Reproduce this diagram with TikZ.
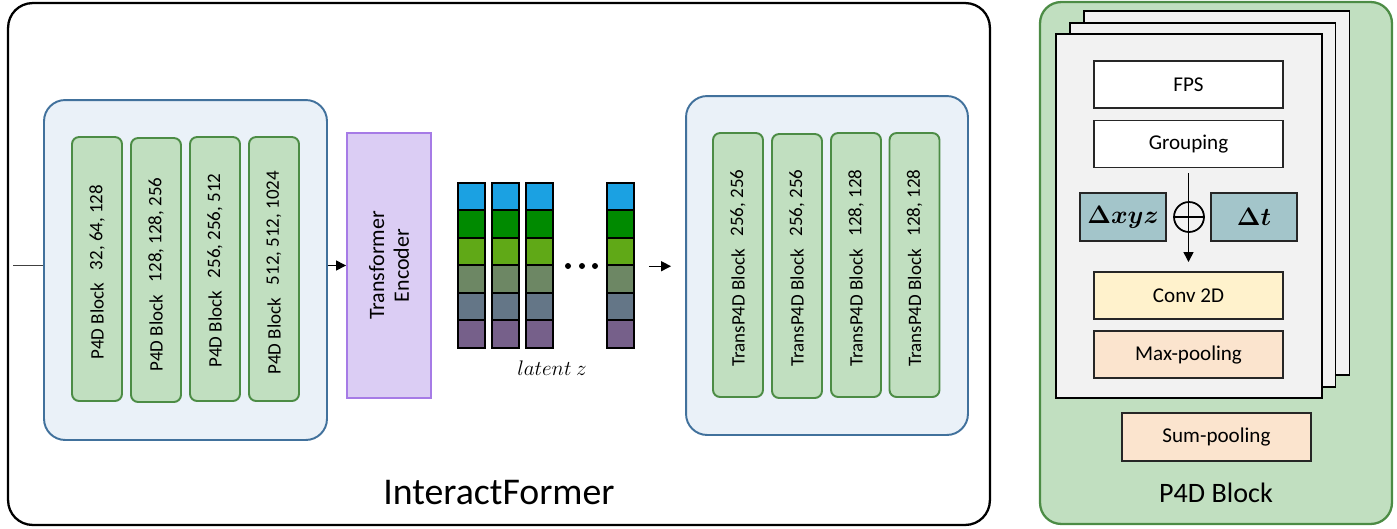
\documentclass[tikz,border=0pt]{standalone}
\usepackage{amsmath,amssymb}
\usepackage{bm}
\usepackage{fontspec}
\setmainfont{Carlito}
\usepackage{tikz}
\usetikzlibrary{shapes,arrows.meta,positioning,calc}
\usepackage{xcolor}
\definecolor{paneblue}{HTML}{EAF1F8}
\definecolor{paneedge}{HTML}{41719C}
\definecolor{blockgreen}{HTML}{C1DFC0}
\definecolor{blockedge}{HTML}{4C8C45}
\definecolor{encfill}{HTML}{DBCDF4}
\definecolor{encedge}{HTML}{A67BE6}
\definecolor{deltafill}{HTML}{A3C5CA}
\definecolor{convfill}{HTML}{FFF2CC}
\definecolor{poolfill}{HTML}{FBE4CE}
\definecolor{pagefill}{HTML}{F2F2F2}
\definecolor{zc1}{HTML}{1BA1E2}
\definecolor{zc2}{HTML}{008A00}
\definecolor{zc3}{HTML}{60A917}
\definecolor{zc4}{HTML}{6D8764}
\definecolor{zc5}{HTML}{647687}
\definecolor{zc6}{HTML}{76608A}
\tikzset{
    pane/.style={draw=paneedge, line width=1.1pt, rounded corners=12pt,
                 fill=paneblue, minimum width=5.66cm, minimum height=6.8cm},
    gblock/.style={draw=blockedge, line width=1.1pt, rounded corners=4pt,
                   fill=blockgreen, minimum width=1cm, minimum height=5.28cm},
    btxt/.style={rotate=90, inner sep=0pt, anchor=west,
                 font=\fontsize{10.8}{12}\selectfont},
    cell/.style={draw=black, line width=1.1pt, fill=#1,
                 minimum width=0.54cm, minimum height=0.55cm, inner sep=0pt},
    page/.style={draw=black, line width=1.1pt, fill=pagefill,
                 minimum width=5.32cm, minimum height=7.28cm},
    opbox/.style={draw=black!85, line width=1.1pt, fill=#1,
                  minimum width=3.78cm, minimum height=0.94cm,
                  font=\fontsize{12}{14}\selectfont},
    dbox/.style={draw=black!85, line width=1.1pt, fill=deltafill,
                 minimum width=1.72cm, minimum height=0.96cm,
                 font=\fontsize{15}{17}\selectfont},
}

\begin{document}
\begin{tikzpicture}[
    x=0.02cm, y=-0.02cm,
    arr/.style={-{Triangle[length=2mm,width=2mm]}, line width=0.8pt, black},
]
    \useasboundingbox (0,0) rectangle (1397,528);

    % InteractFormer frame
    \node[draw, line width=1.3pt, rounded corners=14pt, minimum width=19.64cm,
          minimum height=10.44cm] (frame) at (499,264) {};
    \node[font=\fontsize{21.5}{24}\selectfont] (title) at (499,493) {InteractFormer};

    % encoder stack
    \node[pane] (enc) at (185.5,270) {};
    \foreach \i/\x/\y/\b/\dims in {1/97/269/360/{32, 64, 128},
                                  2/156/270/372/{128, 128, 256},
                                  3/215/269/368/{256, 256, 512},
                                  4/274/269/375/{512, 512, 1024}}{
        \node[gblock] (p\i) at (\x,\y) {};
        \node[btxt] (pl\i) at (\x,\b) {P4D Block};
        \node[btxt] (pd\i) at ($(pl\i.east)+(0,-12)$) {\dims};
    }

    \node[draw=encedge, line width=1.1pt, fill=encfill, rotate=90,
          minimum width=5.3cm, minimum height=1.68cm, align=center,
          font=\fontsize{12.5}{14}\selectfont] (tf) at (389,265.5)
          {Transformer\\Encoder};

    \coordinate (in) at (13,265.5);
    \draw[line width=0.8pt, black!75] (in) -- (in -| enc.west);
    \draw[arr] (enc.east |- tf.north) -- (tf.north);

    % latent z
    \foreach \c/\x in {1/471.5, 2/505.5, 3/539.5, 4/620.5}{
        \foreach \r in {1,...,6}{
            \node[cell=zc\r] (z-\c-\r) at (\x,{196.5+27.5*(\r-1)}) {};
        }
    }
    \foreach \i/\x in {1/568, 2/582, 3/595}{
        \fill (\x,266) circle (3) coordinate (dot\i);
    }
    \node[font=\fontsize{11.5}{13}\selectfont] (lat) at (552,368) {$latent\ z$};

    % decoder stack
    \node[pane, minimum width=5.64cm, minimum height=6.78cm] (dec) at (827,265.5) {};
    \foreach \i/\x/\y/\dims in {1/738/265/{256, 256}, 2/797/266/{256, 256},
                                3/856/265/{128, 128}, 4/914.5/265/{128, 128}}{
        \node[gblock] (t\i) at (\x,\y) {};
        \node[btxt] (tl\i) at (\x,367) {TransP4D Block};
        \node[btxt] (td\i) at ($(tl\i.east)+(0,-12)$) {\dims};
    }

    \draw[arr, shorten <=0.28cm, shorten >=0.28cm] (z-4-3.south east) -- (z-4-3.south east -| dec.west);

    % P4D block detail
    \node[draw=blockedge, line width=1.3pt, rounded corners=12pt, fill=blockgreen,
          minimum width=7.04cm, minimum height=10.44cm] (p4d) at (1216,263) {};
    \node[page] (pg3) at (1216.5,193) {};
    \node[page] (pg2) at (1202.5,205) {};
    \node[page] (pg1) at (1189,216) {};

    \node[opbox=white] (fps) at (1188.5,84.5) {FPS};
    \node[opbox=white] (grp) at (1188.5,144) {Grouping};
    \node[dbox] (dxyz) at (1123,217) {$\bm{\Delta xyz}$};
    \node[dbox] (dt) at (1254,217) {$\bm{\Delta t}$};
    \node[draw, circle, line width=1pt, minimum size=0.6cm, inner sep=0pt] (plus) at (1189,217) {};
    \draw[line width=1pt] (plus.west) -- (plus.east);
    \node[opbox=convfill] (conv) at (1188.5,295.5) {Conv 2D};
    \node[opbox=poolfill] (maxp) at (1188.5,354.5) {Max-pooling};
    \draw[arr, shorten <=0.1cm, shorten >=0.18cm] (grp.south) -- (conv.north);

    \node[opbox=poolfill, minimum height=0.96cm] (sump) at (1216.5,437) {Sum-pooling};
    \node[font=\fontsize{16}{18}\selectfont] (p4dlbl) at (1216,493) {P4D Block};
\end{tikzpicture}
\end{document}
